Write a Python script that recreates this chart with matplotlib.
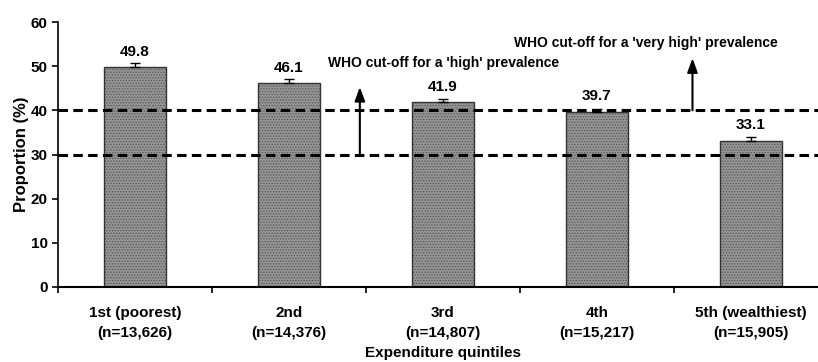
import matplotlib
matplotlib.use("Agg")
import matplotlib.pyplot as plt
import numpy as np

plt.rcParams['font.family'] = ['Liberation Sans', 'DejaVu Sans']
plt.rcParams['font.weight'] = 'bold'
plt.rcParams['hatch.linewidth'] = 0.6

categories = ["1st (poorest)\n(n=13,626)", "2nd\n(n=14,376)", "3rd\n(n=14,807)",
              "4th\n(n=15,217)", "5th (wealthiest)\n(n=15,905)"]
values = [49.8, 46.1, 41.9, 39.7, 33.1]
errors = [0.9, 0.9, 0.7, 0.7, 0.8]
cutoffs = [30, 40]
cutoff_labels = ["WHO cut-off for a 'high' prevalence", "WHO cut-off for a 'very high' prevalence"]

fig = plt.figure(figsize=(8.18, 3.62), dpi=100)
ax = fig.add_axes([58/818, 1-287/362, 770/818, 265/362])

x = np.arange(len(values))
bars = ax.bar(x, values, width=0.4, color='#959595', edgecolor='#333333', linewidth=1.0,
              hatch='......', zorder=2)
for b in bars:
    b._hatch_color = matplotlib.colors.to_rgba('#555555')
ax.errorbar(x, values, yerr=[np.zeros(len(errors)), errors], fmt='none', ecolor='black',
            elinewidth=1, capsize=3.5, capthick=1, zorder=3)
for xi, v in zip(x, values):
    ax.annotate(f"{v}", (xi, v), xytext=(0, 6), textcoords='offset points', ha='center',
                va='bottom', fontsize=11, fontweight='bold')

for c in cutoffs:
    ax.axhline(c, color='black', linestyle=(0, (3.1, 1.75)), linewidth=2.2, zorder=4)

# arrows
arrow_kw = dict(arrowstyle='-|>,head_length=0.6,head_width=0.22', color='black',
                lw=1.5, mutation_scale=14, shrinkA=0, shrinkB=0)
ax.annotate('', xy=(1.46, 45.3), xytext=(1.46, 30), arrowprops=arrow_kw, zorder=5)
ax.annotate('', xy=(3.62, 51.8), xytext=(3.62, 40), arrowprops=arrow_kw, zorder=5)
ax.text(1.255, 50.7, cutoff_labels[0], ha='left', va='center', fontsize=10, fontweight='bold')
ax.text(2.46, 55.2, cutoff_labels[1], ha='left', va='center', fontsize=10, fontweight='bold')

ax.set_xlim(-0.5, 4.5)
ax.set_ylim(0, 60)
ax.set_yticks(range(0, 61, 10))
ax.set_xticks(x)
ax.set_xticklabels(categories, fontsize=11, fontweight='bold', linespacing=1.55)
ax.set_xticks(np.arange(-0.5, 5, 1), minor=True)
ax.tick_params(axis='x', which='major', length=0, pad=14)
ax.tick_params(axis='x', which='minor', length=4, width=1.2, direction='out')
ax.tick_params(axis='y', length=4, width=1.2, labelsize=11)
for lab in ax.get_yticklabels():
    lab.set_fontweight('bold')
ax.spines['top'].set_visible(False)
ax.spines['right'].set_visible(False)
ax.spines['left'].set_linewidth(1.2)
ax.spines['bottom'].set_linewidth(1.5)
ax.set_ylabel('Proportion (%)', fontsize=12, fontweight='bold', labelpad=1)
ax.set_xlabel('Expenditure quintiles', fontsize=11, fontweight='bold', labelpad=4)

fig.savefig('out.png', dpi=100)
